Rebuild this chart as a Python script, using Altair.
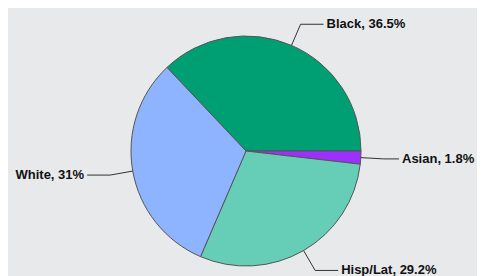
import math
import altair as alt
import pandas as pd

# ---- data ----
categories = ["Black", "Asian", "Hisp/Lat", "White"]
shares = [36.5, 1.8, 29.2, 31.0]
colors = ["#009E73", "#9B30FF", "#66CDB6", "#8EB4FF"]

# ---- layout ----
W, H = 469, 268
CX, CY = 238, 143
R = 115
R_ELBOW = 138
ARM = 23
GAP = 3
MAX_HX = 391  # keep right-hand labels inside the view
TAU = 2 * math.pi
# rotate so that the first slice ends at 3 o'clock
START = math.pi / 2 - TAU * shares[0] / sum(shares) + TAU

df = pd.DataFrame({"cat": categories, "value": shares, "idx": list(range(len(categories)))})

pie = alt.Chart(df).mark_arc(outerRadius=R, stroke="#555555", strokeWidth=1).encode(
    theta=alt.Theta("value:Q", stack=True, scale=alt.Scale(range=[START, START + TAU])),
    color=alt.Color("cat:N", scale=alt.Scale(domain=categories, range=colors), legend=None),
    order=alt.Order("idx:Q"),
    x=alt.value(CX),
    y=alt.value(CY),
)

base = (
    alt.Chart(df)
    .transform_joinaggregate(total="sum(value)")
    .transform_window(cum="sum(value)", frame=[None, 0], sort=[alt.SortField("idx")])
    .transform_calculate(a=f"{START} + {TAU} * (datum.cum - datum.value / 2) / datum.total")
    .transform_calculate(s="sin(datum.a)")
    .transform_calculate(c="cos(datum.a)")
    .transform_calculate(ex=f"{CX} + {R} * datum.s")
    .transform_calculate(ey=f"{CY} - {R} * datum.c")
    .transform_calculate(kx=f"{CX} + {R_ELBOW} * datum.s")
    .transform_calculate(ky=f"{CY} - {R_ELBOW} * datum.c")
    .transform_calculate(side="datum.s >= 0 ? 1 : -1")
    .transform_calculate(hx=f"datum.side > 0 ? min(datum.kx + {ARM}, {MAX_HX}) : datum.kx - {ARM}")
    .transform_calculate(tx=f"datum.hx + datum.side * {GAP}")
    .transform_calculate(label="datum.cat + ', ' + datum.value + '%'")
)

radial = base.mark_rule(color="#333333", strokeWidth=1).encode(
    x=alt.X("ex:Q", scale=None, axis=None),
    y=alt.Y("ey:Q", scale=None, axis=None),
    x2="kx:Q",
    y2="ky:Q",
)
horiz = base.mark_rule(color="#333333", strokeWidth=1).encode(
    x=alt.X("kx:Q", scale=None, axis=None),
    y=alt.Y("ky:Q", scale=None, axis=None),
    x2="hx:Q",
    y2="ky:Q",
)

text_style = dict(baseline="middle", font="Liberation Sans", fontWeight="bold", fontSize=13, color="#111111")
right_text = base.transform_filter("datum.side > 0").mark_text(align="left", **text_style).encode(
    x=alt.X("tx:Q", scale=None, axis=None),
    y=alt.Y("ky:Q", scale=None, axis=None),
    text="label:N",
)
left_text = base.transform_filter("datum.side < 0").mark_text(align="right", **text_style).encode(
    x=alt.X("tx:Q", scale=None, axis=None),
    y=alt.Y("ky:Q", scale=None, axis=None),
    text="label:N",
)

chart = (
    alt.layer(pie, radial, horiz, right_text, left_text)
    .properties(width=W, height=H, padding=0, background="#E8E9EB",
                autosize=alt.AutoSizeParams(type="none"))
    .configure_view(stroke=None)
)

chart.save("out.html", embed_options={"renderer": "svg", "actions": False})
